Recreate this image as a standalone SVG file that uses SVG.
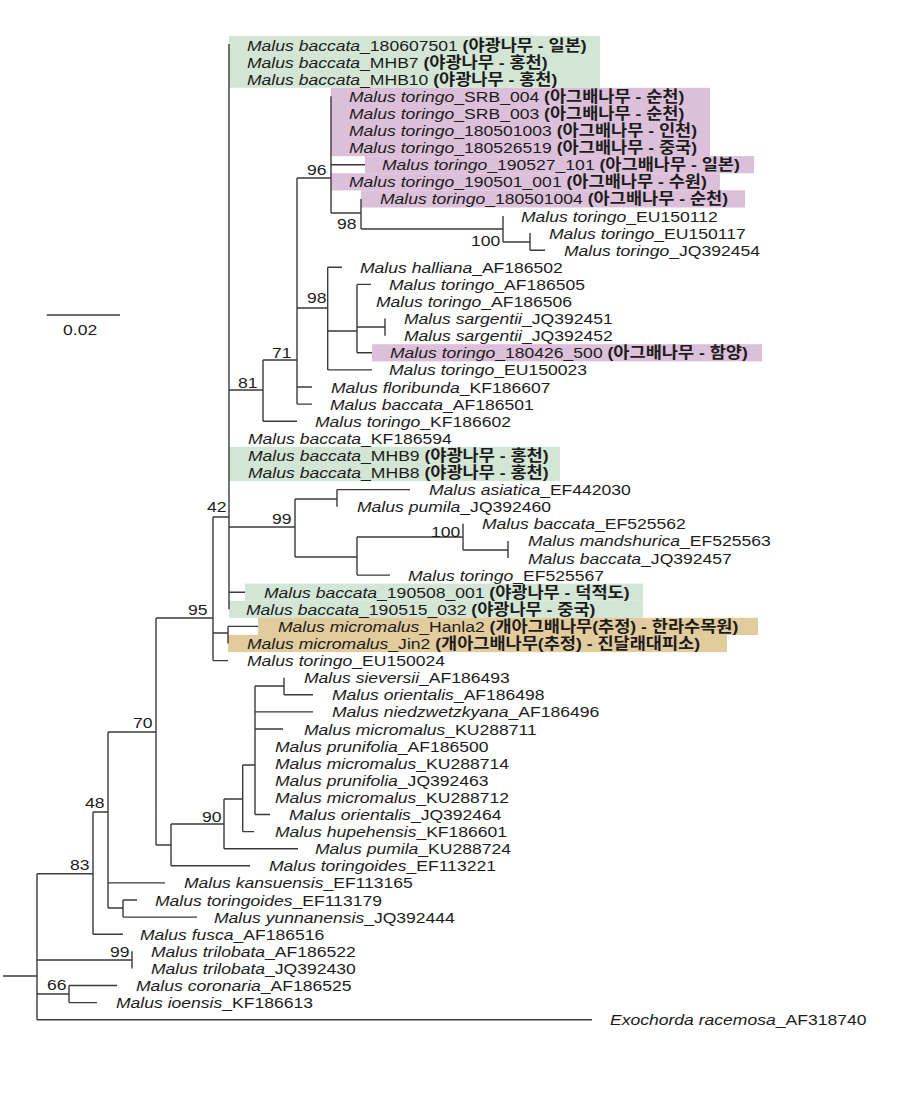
<svg xmlns="http://www.w3.org/2000/svg" width="899" height="1103" viewBox="0 0 899 1103">
<style>
.t{font-family:"Liberation Sans","Noto Sans CJK KR",sans-serif;font-size:15.4px;fill:#1c1c1c}
.i{font-style:italic}
.k{font-weight:bold;font-family:"Liberation Sans","Noto Sans CJK KR",sans-serif}
.br{fill:none;stroke:#3a3a3a;stroke-width:1.4}
.g{fill:#d3e6d5}
.p{fill:#dcc0da}
.n{fill:#e2cb9d}
</style>
<rect width="899" height="1103" fill="#ffffff"/>
<g id="highlights">
<rect class="g" x="229" y="36" width="371" height="51.8"/>
<rect class="p" x="331" y="87.8" width="379" height="68.4"/>
<rect class="p" x="365" y="156.1" width="389" height="17.2"/>
<rect class="p" x="331" y="173.2" width="389" height="17.2"/>
<rect class="p" x="361" y="190.3" width="384" height="17.2"/>
<rect class="p" x="372" y="344.2" width="390" height="17.2"/>
<rect class="g" x="229" y="446.8" width="331" height="34.3"/>
<rect class="g" x="245" y="583.6" width="398" height="17.2"/>
<rect class="g" x="229" y="600.7" width="414" height="17.2"/>
<rect class="n" x="258" y="617.8" width="500" height="17.2"/>
<rect class="n" x="228" y="634.9" width="499" height="17.2"/>
</g>
<g id="connectors" class="br">
<path d="M3,976H37M37,873.7V1019.7M37,1019.7H592"/>
<path d="M37,873.7H93M93,812V934.2M93,934.2H123"/>
<path d="M93,812H108M108,732V908M108,882.9H165M108,908H123M123,900V917.1M123,900H137M123,917.1H197"/>
<path d="M108,732H156M156,618V845M156,845H171M171,824V865.8M171,865.8H250M171,824H224M224,799V848.7M224,848.7H298M224,799H242.7M242.7,765V831.6M242.7,831.6H254M242.7,765H255M255,686V814.5M255,814.5H270M255,686H284M284,677.7V694.8M284,694.8H313M255,711.9H313M255,729H283"/>
<path d="M156,618H213M213,517V660.6M213,660.6H228M213,633H228M228,626.4V643.5M228,626.4H258"/>
<path d="M213,517H229M229,44V609.3M229,592.2H245"/>
<path d="M229,390H263M263,360V421.2M263,421.2H297"/>
<path d="M263,360H297M297,178V404.1M297,387H312M297,404.1H312"/>
<path d="M297,308H327.7M327.7,267.3V369.9M327.7,267.3H342M327.7,369.9H372M327.7,331H357M357,284.4V352.8M357,284.4H371M357,327H385M385,318.6V335.7M357,352.8H372"/>
<path d="M297,178H331M331,96.3V213M331,164.7H365M331,213H361M361,198.9V229M361,229H503M503,216V242M503,242H530M530,233.1V250.2M530,250.2H545"/>
<path d="M229,527H295M295,499V557M295,499H337M337,489.6V506.7M337,489.6H410M295,557H357M357,537V575.1M357,575.1H390M357,537H463M463,523.8V550M463,550H508M508,540.9V558"/>
<path d="M37,960H132M132,951.3V968.4"/>
<path d="M37,994H69M69,985.5V1002.6M69,985.5H117M69,1002.6H97"/>
</g>
<g id="scale">
<path class="br" d="M46.7,315H120"/>
<text class="t" transform="translate(63,335) scale(1.14,1)">0.02</text>
</g>
<g id="support-values" class="t">
<text transform="translate(307,175) scale(1.14,1)">96</text>
<text transform="translate(337,229) scale(1.14,1)">98</text>
<text transform="translate(471,246) scale(1.14,1)">100</text>
<text transform="translate(307,303) scale(1.14,1)">98</text>
<text transform="translate(272,358) scale(1.14,1)">71</text>
<text transform="translate(238,388) scale(1.14,1)">81</text>
<text transform="translate(207,512) scale(1.14,1)">42</text>
<text transform="translate(272,524) scale(1.14,1)">99</text>
<text transform="translate(431,537) scale(1.14,1)">100</text>
<text transform="translate(188,615) scale(1.14,1)">95</text>
<text transform="translate(133,728) scale(1.14,1)">70</text>
<text transform="translate(202,822) scale(1.14,1)">90</text>
<text transform="translate(85,808) scale(1.14,1)">48</text>
<text transform="translate(70,870) scale(1.14,1)">83</text>
<text transform="translate(110,957) scale(1.14,1)">99</text>
<text transform="translate(47,990) scale(1.14,1)">66</text>
</g>
<g id="leaves" class="t">
<g id="leaf01"><text transform="translate(247,50.5) scale(1.14,1)"><tspan class="i">Malus baccata</tspan>_180607501 <tspan class="k">(야광나무 - 일본)</tspan></text></g>
<g id="leaf02"><text transform="translate(247,67.6) scale(1.14,1)"><tspan class="i">Malus baccata</tspan>_MHB7 <tspan class="k">(야광나무 - 홍천)</tspan></text></g>
<g id="leaf03"><text transform="translate(247,84.7) scale(1.14,1)"><tspan class="i">Malus baccata</tspan>_MHB10 <tspan class="k">(야광나무 - 홍천)</tspan></text></g>
<g id="leaf04"><text transform="translate(349,101.8) scale(1.14,1)"><tspan class="i">Malus toringo</tspan>_SRB_004 <tspan class="k">(아그배나무 - 순천)</tspan></text></g>
<g id="leaf05"><text transform="translate(349,118.9) scale(1.14,1)"><tspan class="i">Malus toringo</tspan>_SRB_003 <tspan class="k">(아그배나무 - 순천)</tspan></text></g>
<g id="leaf06"><text transform="translate(349,136) scale(1.14,1)"><tspan class="i">Malus toringo</tspan>_180501003 <tspan class="k">(아그배나무 - 인천)</tspan></text></g>
<g id="leaf07"><text transform="translate(349,153.1) scale(1.14,1)"><tspan class="i">Malus toringo</tspan>_180526519 <tspan class="k">(아그배나무 - 중국)</tspan></text></g>
<g id="leaf08"><text transform="translate(382,170.2) scale(1.14,1)"><tspan class="i">Malus toringo</tspan>_190527_101 <tspan class="k">(아그배나무 - 일본)</tspan></text></g>
<g id="leaf09"><text transform="translate(349,187.3) scale(1.14,1)"><tspan class="i">Malus toringo</tspan>_190501_001 <tspan class="k">(아그배나무 - 수원)</tspan></text></g>
<g id="leaf10"><text transform="translate(380,204.4) scale(1.14,1)"><tspan class="i">Malus toringo</tspan>_180501004 <tspan class="k">(아그배나무 - 순천)</tspan></text></g>
<g id="leaf11"><text transform="translate(521,221.5) scale(1.14,1)"><tspan class="i">Malus toringo</tspan>_EU150112</text></g>
<g id="leaf12"><text transform="translate(549,238.6) scale(1.14,1)"><tspan class="i">Malus toringo</tspan>_EU150117</text></g>
<g id="leaf13"><text transform="translate(564,255.7) scale(1.14,1)"><tspan class="i">Malus toringo</tspan>_JQ392454</text></g>
<g id="leaf14"><text transform="translate(360,272.8) scale(1.14,1)"><tspan class="i">Malus halliana</tspan>_AF186502</text></g>
<g id="leaf15"><text transform="translate(389,289.9) scale(1.14,1)"><tspan class="i">Malus toringo</tspan>_AF186505</text></g>
<g id="leaf16"><text transform="translate(376,307) scale(1.14,1)"><tspan class="i">Malus toringo</tspan>_AF186506</text></g>
<g id="leaf17"><text transform="translate(404,324.1) scale(1.14,1)"><tspan class="i">Malus sargentii</tspan>_JQ392451</text></g>
<g id="leaf18"><text transform="translate(404,341.2) scale(1.14,1)"><tspan class="i">Malus sargentii</tspan>_JQ392452</text></g>
<g id="leaf19"><text transform="translate(390,358.3) scale(1.14,1)"><tspan class="i">Malus toringo</tspan>_180426_500 <tspan class="k">(아그배나무 - 함양)</tspan></text></g>
<g id="leaf20"><text transform="translate(389,375.4) scale(1.14,1)"><tspan class="i">Malus toringo</tspan>_EU150023</text></g>
<g id="leaf21"><text transform="translate(331,392.5) scale(1.14,1)"><tspan class="i">Malus floribunda</tspan>_KF186607</text></g>
<g id="leaf22"><text transform="translate(330,409.6) scale(1.14,1)"><tspan class="i">Malus baccata</tspan>_AF186501</text></g>
<g id="leaf23"><text transform="translate(315,426.7) scale(1.14,1)"><tspan class="i">Malus toringo</tspan>_KF186602</text></g>
<g id="leaf24"><text transform="translate(248,443.8) scale(1.14,1)"><tspan class="i">Malus baccata</tspan>_KF186594</text></g>
<g id="leaf25"><text transform="translate(248,460.9) scale(1.14,1)"><tspan class="i">Malus baccata</tspan>_MHB9 <tspan class="k">(야광나무 - 홍천)</tspan></text></g>
<g id="leaf26"><text transform="translate(248,478) scale(1.14,1)"><tspan class="i">Malus baccata</tspan>_MHB8 <tspan class="k">(야광나무 - 홍천)</tspan></text></g>
<g id="leaf27"><text transform="translate(429,495.1) scale(1.14,1)"><tspan class="i">Malus asiatica</tspan>_EF442030</text></g>
<g id="leaf28"><text transform="translate(357,512.2) scale(1.14,1)"><tspan class="i">Malus pumila</tspan>_JQ392460</text></g>
<g id="leaf29"><text transform="translate(482,529.3) scale(1.14,1)"><tspan class="i">Malus baccata</tspan>_EF525562</text></g>
<g id="leaf30"><text transform="translate(528,546.4) scale(1.14,1)"><tspan class="i">Malus mandshurica</tspan>_EF525563</text></g>
<g id="leaf31"><text transform="translate(528,563.5) scale(1.14,1)"><tspan class="i">Malus baccata</tspan>_JQ392457</text></g>
<g id="leaf32"><text transform="translate(408,580.6) scale(1.14,1)"><tspan class="i">Malus toringo</tspan>_EF525567</text></g>
<g id="leaf33"><text transform="translate(264,597.7) scale(1.14,1)"><tspan class="i">Malus baccata</tspan>_190508_001 <tspan class="k">(야광나무 - 덕적도)</tspan></text></g>
<g id="leaf34"><text transform="translate(246,614.8) scale(1.14,1)"><tspan class="i">Malus baccata</tspan>_190515_032 <tspan class="k">(야광나무 - 중국)</tspan></text></g>
<g id="leaf35"><text transform="translate(278,631.9) scale(1.14,1)"><tspan class="i">Malus micromalus</tspan>_Hanla2 <tspan class="k">(개아그배나무(추정) - 한라수목원)</tspan></text></g>
<g id="leaf36"><text transform="translate(247,649) scale(1.14,1)"><tspan class="i">Malus micromalus</tspan>_Jin2 <tspan class="k">(개아그배나무(추정) - 진달래대피소)</tspan></text></g>
<g id="leaf37"><text transform="translate(247,666.1) scale(1.14,1)"><tspan class="i">Malus toringo</tspan>_EU150024</text></g>
<g id="leaf38"><text transform="translate(304,683.2) scale(1.14,1)"><tspan class="i">Malus sieversii</tspan>_AF186493</text></g>
<g id="leaf39"><text transform="translate(332,700.3) scale(1.14,1)"><tspan class="i">Malus orientalis</tspan>_AF186498</text></g>
<g id="leaf40"><text transform="translate(332,717.4) scale(1.14,1)"><tspan class="i">Malus niedzwetzkyana</tspan>_AF186496</text></g>
<g id="leaf41"><text transform="translate(304,734.5) scale(1.14,1)"><tspan class="i">Malus micromalus</tspan>_KU288711</text></g>
<g id="leaf42"><text transform="translate(275,751.6) scale(1.14,1)"><tspan class="i">Malus prunifolia</tspan>_AF186500</text></g>
<g id="leaf43"><text transform="translate(275,768.7) scale(1.14,1)"><tspan class="i">Malus micromalus</tspan>_KU288714</text></g>
<g id="leaf44"><text transform="translate(275,785.8) scale(1.14,1)"><tspan class="i">Malus prunifolia</tspan>_JQ392463</text></g>
<g id="leaf45"><text transform="translate(275,802.9) scale(1.14,1)"><tspan class="i">Malus micromalus</tspan>_KU288712</text></g>
<g id="leaf46"><text transform="translate(289,820) scale(1.14,1)"><tspan class="i">Malus orientalis</tspan>_JQ392464</text></g>
<g id="leaf47"><text transform="translate(275,837.1) scale(1.14,1)"><tspan class="i">Malus hupehensis</tspan>_KF186601</text></g>
<g id="leaf48"><text transform="translate(315,854.2) scale(1.14,1)"><tspan class="i">Malus pumila</tspan>_KU288724</text></g>
<g id="leaf49"><text transform="translate(269,871.3) scale(1.14,1)"><tspan class="i">Malus toringoides</tspan>_EF113221</text></g>
<g id="leaf50"><text transform="translate(184,888.4) scale(1.14,1)"><tspan class="i">Malus kansuensis</tspan>_EF113165</text></g>
<g id="leaf51"><text transform="translate(155,905.5) scale(1.14,1)"><tspan class="i">Malus toringoides</tspan>_EF113179</text></g>
<g id="leaf52"><text transform="translate(214,922.6) scale(1.14,1)"><tspan class="i">Malus yunnanensis</tspan>_JQ392444</text></g>
<g id="leaf53"><text transform="translate(140,939.7) scale(1.14,1)"><tspan class="i">Malus fusca</tspan>_AF186516</text></g>
<g id="leaf54"><text transform="translate(151,956.8) scale(1.14,1)"><tspan class="i">Malus trilobata</tspan>_AF186522</text></g>
<g id="leaf55"><text transform="translate(151,973.9) scale(1.14,1)"><tspan class="i">Malus trilobata</tspan>_JQ392430</text></g>
<g id="leaf56"><text transform="translate(136,991) scale(1.14,1)"><tspan class="i">Malus coronaria</tspan>_AF186525</text></g>
<g id="leaf57"><text transform="translate(116,1008.1) scale(1.14,1)"><tspan class="i">Malus ioensis</tspan>_KF186613</text></g>
<g id="leaf58"><text transform="translate(610,1025.2) scale(1.14,1)"><tspan class="i">Exochorda racemosa</tspan>_AF318740</text></g>
</g>
</svg>
